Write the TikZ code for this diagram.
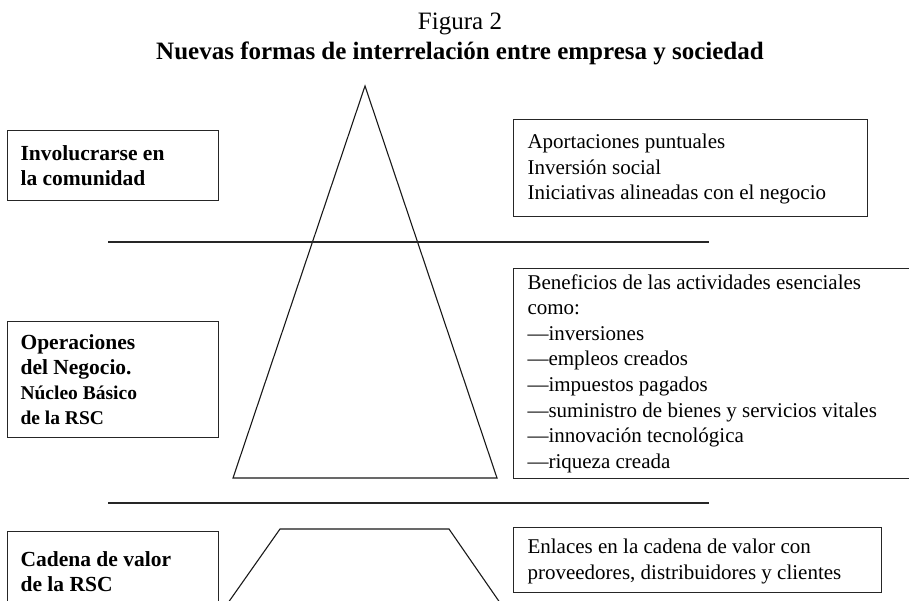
\documentclass[tikz,border=0pt]{standalone}
\usepackage{fontspec}
\setmainfont{Liberation Serif}
\usepackage{tikz}
\tikzset{
  caja/.style={
    rectangle,
    draw=black!85, line width=1.1pt,
    anchor=north west,
    inner sep=0pt,
    align=flush left},
  izquierda/.style={
    caja,
    minimum width=211pt,
    text width=185pt,
    font=\fontsize{21.5}{25}\selectfont\bfseries},
  derecha/.style={
    caja,
    font=\fontsize{21}{25.6}\selectfont},
  linea/.style={draw=black!85, line width=1.1pt},
  figura/.style={draw=black!90, line width=1.1pt, line join=miter},
}

\begin{document}
\begin{tikzpicture}[x=1pt, y=1pt]
		\clip (0,0) rectangle (909,600);
		\node[anchor=base, font=\fontsize{25}{30}\selectfont] (fig) at (460,570) {Figura 2};
		\node[anchor=base, font=\fontsize{25}{30}\selectfont\bfseries] (titulo) at (460,540) {Nuevas formas de interrelación entre empresa y sociedad};
		% piramide y base
		\draw[figura] (365,514) -- (497,122) -- (233,122) -- cycle;
		\draw[figura] (223,-10) -- (280,71) -- (449,71) -- (505,-10);
		\draw[linea] (108,358) -- (709,358);
		\draw[linea] (108,97) -- (709,97);
		% columna izquierda
		\node[izquierda, minimum height=70pt] (comunidad) at (7,470) {Involucrarse en\\la comunidad};
		\node[izquierda, minimum height=116pt] (operaciones) at (7,279) {Operaciones\\del Negocio.\\\fontsize{19.5}{24.5}\selectfont Núcleo Básico\\de la RSC};
		\node[izquierda, minimum height=80pt] (cadena) at (7,69) {Cadena de valor\\de la RSC};
		% columna derecha
		\node[derecha, minimum width=354pt, text width=326pt, minimum height=97pt, text height=17pt] (aportaciones) at (513,481) {Aportaciones puntuales\\Inversión social\\Iniciativas alineadas con el negocio};
		\node[derecha, minimum width=402pt, text width=374pt, minimum height=210pt] (beneficios) at (513,332) {Beneficios de las actividades esenciales\\como:\\---inversiones\\---empleos creados\\---impuestos pagados\\---suministro de bienes y servicios vitales\\---innovación tecnológica\\---riqueza creada};
		\node[derecha, minimum width=368pt, text width=340pt, minimum height=65pt, text height=17pt] (enlaces) at (513,73) {Enlaces en la cadena de valor con\\proveedores, distribuidores y clientes};
	\end{tikzpicture}
\end{document}
